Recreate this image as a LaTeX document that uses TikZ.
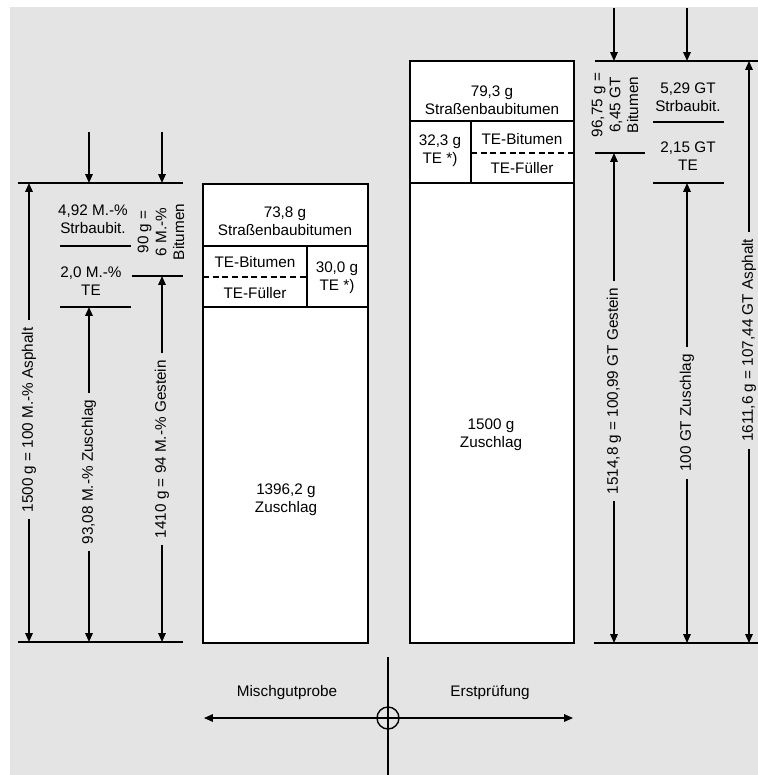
\documentclass[tikz,border=0pt]{standalone}
\usepackage{fontspec}
\setmainfont{Liberation Sans}
\usetikzlibrary{arrows.meta}
\definecolor{panelgray}{HTML}{E4E4E4}

\begin{document}
\begin{tikzpicture}[x=0.02cm, y=-0.02cm, font=\fontsize{8.7}{10.2}\selectfont,
  dim/.style={line width=0.8pt},
  onetip/.style={dim, -{Triangle[length=5pt,width=4.2pt]}},
  twotips/.style={dim, {Triangle[length=5pt,width=4.2pt]}-{Triangle[length=5pt,width=4.2pt]}},
  boxline/.style={line width=1.1pt},
  lbl/.style={align=center, inner sep=1pt},
  vlbl/.style={rotate=90, fill=panelgray, inner xsep=4pt, inner ysep=1pt}]
  \useasboundingbox (0,0) rectangle (758,775);
  \fill[panelgray] (10,7) rectangle (758,775);

  % Mischgutprobe side
  \draw[dim] (18,183) -- (183,183);
  \draw[dim] (18,642) -- (183,642);
  \draw[dim] (60,246) -- (131,246);
  \draw[dim] (132,276) -- (183,276);
  \draw[dim] (60,307) -- (131,307);
  \coordinate (mTopA) at (89,132);  \coordinate (mTopB) at (162,132);
  \coordinate (mLineA) at (89,183); \coordinate (mLineB) at (162,183);
  \draw[onetip] (mTopA) -- (mLineA);
  \draw[onetip] (mTopB) -- (mLineB);
  \coordinate (asphTop) at (29,183);  \coordinate (asphBot) at (29,642);
  \coordinate (zusTop) at (89,307);   \coordinate (zusBot) at (89,642);
  \coordinate (gesTop) at (162,276);  \coordinate (gesBot) at (162,642);
  \draw[twotips] (asphBot) -- node[vlbl, pos=0.484] (asphLbl) {1500 g = 100 M.-\% Asphalt} (asphTop);
  \draw[twotips] (zusBot) -- node[vlbl, pos=0.507] (zusLbl) {93,08 M.-\% Zuschlag} (zusTop);
  \draw[twotips] (gesBot) -- node[vlbl, pos=0.527] (gesLbl) {1410 g = 94 M.-\% Gestein} (gesTop);
  \node[lbl] (strbL) at (93,219) {4,92 M.-\%\\Strbaubit.};
  \node[lbl] (teL) at (91,281) {2,0 M.-\%\\TE};
  \node[lbl, rotate=90] (bitL) at (161,232) {90 g =\\6 M.-\%\\Bitumen};

  % Mischgutprobe column
  \draw[boxline, fill=white] (203,184) rectangle (368,643);
  \draw[boxline] (203,246) -- (368,246);
  \draw[boxline] (203,307) -- (368,307);
  \draw[boxline] (307,246) -- (307,307);
  \draw[boxline, dash pattern=on 3.5pt off 2pt] (203,277) -- (307,277);
  \node[lbl] (bitMg) at (285,221) {73,8 g\\Straßenbaubitumen};
  \node[lbl] (tebMg) at (255,262) {TE-Bitumen};
  \node[lbl] (tefMg) at (255,293) {TE-Füller};
  \node[lbl] (teMg) at (337,278) {30,0 g\\TE *)};
  \node[lbl] (zusMg) at (286,500) {1396,2 g\\Zuschlag};

  % Erstpruefung column
  \draw[boxline, fill=white] (410,61) rectangle (574,643);
  \draw[boxline] (410,121) -- (574,121);
  \draw[boxline] (410,183) -- (574,183);
  \draw[boxline] (471,121) -- (471,183);
  \draw[boxline, dash pattern=on 3.5pt off 2pt] (471,153) -- (574,153);
  \node[lbl] (bitEp) at (492,100) {79,3 g\\Straßenbaubitumen};
  \node[lbl] (teEp) at (440,151) {32,3 g\\TE *)};
  \node[lbl] (tebEp) at (522,139) {TE-Bitumen};
  \node[lbl] (tefEp) at (522,168) {TE-Füller};
  \node[lbl] (zusEp) at (491,435) {1500 g\\Zuschlag};

  % Erstpruefung side
  \draw[dim] (595,61) -- (758,61);
  \draw[dim] (594,643) -- (758,643);
  \draw[dim] (595,153) -- (645,153);
  \draw[dim] (653,122) -- (724,122);
  \draw[dim] (653,183) -- (724,183);
  \coordinate (eTopA) at (614,8);   \coordinate (eTopB) at (687,8);
  \coordinate (eLineA) at (614,61); \coordinate (eLineB) at (687,61);
  \draw[onetip] (eTopA) -- (eLineA);
  \draw[onetip] (eTopB) -- (eLineB);
  \coordinate (gesTopR) at (614,153); \coordinate (gesBotR) at (614,643);
  \coordinate (zusTopR) at (687,183); \coordinate (zusBotR) at (687,643);
  \coordinate (asphTopR) at (749,61); \coordinate (asphBotR) at (749,643);
  \draw[twotips] (gesBotR) -- node[vlbl, pos=0.514] (gesLblR) {1514,8 g = 100,99 GT Gestein} (gesTopR);
  \draw[twotips] (zusBotR) -- node[vlbl, pos=0.5] (zusLblR) {100 GT Zuschlag} (zusTopR);
  \draw[twotips] (asphBotR) -- node[vlbl, pos=0.52] (asphLblR) {1611,6 g = 107,44 GT Asphalt} (asphTopR);
  \node[lbl] (strbR) at (688,97) {5,29 GT\\Strbaubit.};
  \node[lbl] (teR) at (688,156) {2,15 GT\\TE};
  \node[lbl, rotate=90] (bitR) at (615,105) {96,75 g =\\6,45 GT\\Bitumen};

  % axes
  \coordinate (axTop) at (388,657); \coordinate (axBot) at (388,775);
  \coordinate (axLeft) at (204,718); \coordinate (axRight) at (573,718);
  \draw[dim] (axTop) -- (axBot);
  \draw[twotips] (axLeft) -- (axRight);
  \node[draw, circle, line width=0.8pt, minimum size=0.44cm, inner sep=0pt] (hub) at (388,718) {};
  \node[lbl] (mgp) at (287,693) {Mischgutprobe};
  \node[lbl] (erp) at (490,693) {Erstprüfung};
\end{tikzpicture}
\end{document}
